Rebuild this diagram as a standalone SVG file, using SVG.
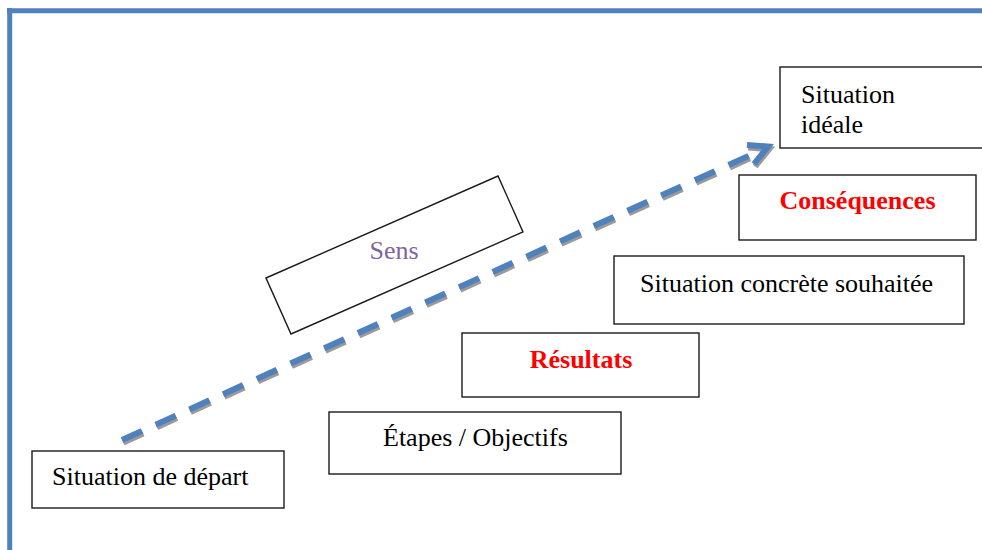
<svg xmlns="http://www.w3.org/2000/svg" width="982" height="550" viewBox="0 0 982 550">
<defs>
<style>
.box{fill:#fff;stroke:#1a1a1a;stroke-width:1.4}
text{font-family:'Liberation Serif','Times New Roman','DejaVu Serif',serif;font-size:26px;fill:#000}
.b{font-weight:bold;fill:#ff0000}
.sens{fill:#8064A2}
.dash{fill:none;stroke:#4F81BD;stroke-width:6;stroke-dasharray:22 15}
.dashsh{fill:none;stroke:#9a9a9a;stroke-width:6;stroke-dasharray:22 15}
.head{fill:none;stroke:#4F81BD;stroke-width:6;stroke-linejoin:miter;stroke-linecap:butt}
.headsh{fill:none;stroke:#9a9a9a;stroke-width:6;stroke-linejoin:miter;stroke-linecap:butt}
</style>
</defs>
<rect width="982" height="550" fill="#fff"/>
<g id="frame">
<line x1="7" y1="10.7" x2="982" y2="10.7" stroke="#4F81BD" stroke-width="5"/>
<line x1="9.7" y1="8" x2="9.7" y2="550" stroke="#4F81BD" stroke-width="5"/>
</g>
<g id="sens">
<polygon class="box" points="266,278 498,176 523,232 291,334"/>
<text class="sens" x="394" y="259" text-anchor="middle" font-family="Liberation Serif, serif">Sens</text>
</g>
<g id="connectors">
<g transform="translate(1.2,2.5)">
<line class="dashsh" x1="122" y1="440" x2="766" y2="148"/>
<polyline class="headsh" points="747,145 768,146.5 754,164"/>
</g>
<line class="dash" x1="122" y1="440" x2="766" y2="148"/>
<polyline class="head" points="747,145 768,146.5 754,164"/>
</g>
<g id="depart">
<rect class="box" x="32" y="451" width="252" height="57"/>
<text x="52" y="485" font-family="Liberation Serif, serif">Situation de départ</text>
</g>
<g id="etapes">
<rect class="box" x="329" y="412" width="292" height="62"/>
<text x="383" y="446" font-family="Liberation Serif, serif">Étapes / Objectifs</text>
</g>
<g id="resultats">
<rect class="box" x="462" y="333" width="237" height="64"/>
<text class="b" x="581" y="368" text-anchor="middle" font-family="Liberation Serif, serif">Résultats</text>
</g>
<g id="concrete">
<rect class="box" x="614" y="256" width="350" height="68"/>
<text x="640" y="292" font-family="Liberation Serif, serif">Situation concrète souhaitée</text>
</g>
<g id="consequences">
<rect class="box" x="739" y="175" width="237" height="65"/>
<text class="b" x="857.5" y="209" text-anchor="middle" font-family="Liberation Serif, serif">Conséquences</text>
</g>
<g id="ideale">
<rect class="box" x="780" y="67" width="215" height="81"/>
<text x="801" y="103" font-family="Liberation Serif, serif">Situation</text>
<text x="801" y="133" font-family="Liberation Serif, serif">idéale</text>
</g>
</svg>
